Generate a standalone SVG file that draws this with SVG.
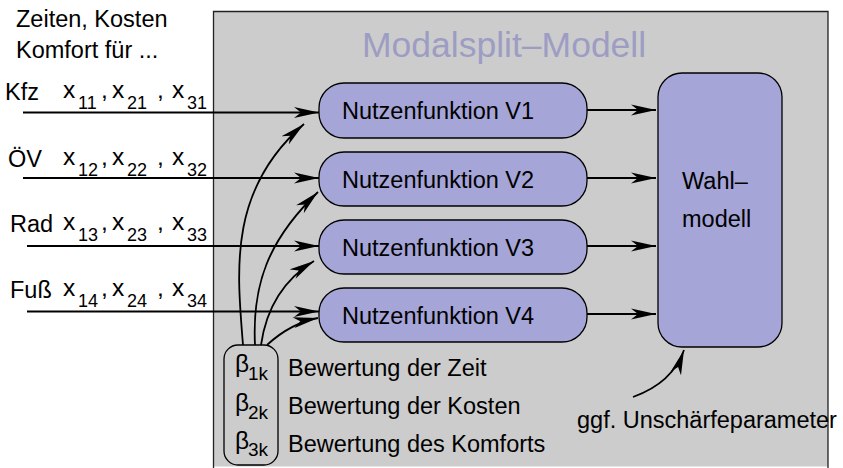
<svg xmlns="http://www.w3.org/2000/svg" width="843" height="468" viewBox="0 0 843 468">
<style>
text{font-family:"Liberation Sans",Arial,Helvetica,sans-serif;fill:#000}
.t{font-size:23.5px}
.x{font-size:24.5px}
.s{font-size:18px}
.sb{font-size:19px}
.title{font-size:35.5px;fill:#9d9dc4}
.node{fill:#a5a5d8;stroke:#000;stroke-width:1.3}
.con{fill:none;stroke:#000;stroke-width:1.8}
</style>
<defs>
<marker id="ah" markerUnits="userSpaceOnUse" markerWidth="25" markerHeight="12" refX="25" refY="6" orient="auto" viewBox="0 0 25 12">
<path d="M0,0.5 L25,6 L0,11.5 L7,6 Z" fill="#000"/>
</marker>
</defs>
<rect width="843" height="468" fill="#fff"/>
<g id="frame">
<rect x="213.5" y="11.5" width="614.5" height="455" fill="#cccccc"/>
<path d="M213.5,468 V11.5 H828 V468" fill="none" stroke="#222" stroke-width="1.3"/>
<text class="title" x="362" y="57">Modalsplit–Modell</text>
</g>
<g id="inputs-header">
<text class="t" x="16" y="27">Zeiten, Kosten</text>
<text class="t" x="16" y="58">Komfort für ...</text>
</g>
<g id="row-kfz">
<text class="t" x="5" y="100">Kfz</text>
<text class="x" y="98"><tspan x="63">x</tspan><tspan x="101">,</tspan><tspan x="112">x</tspan><tspan x="157">,</tspan><tspan x="172">x</tspan></text>
<text class="s" y="109"><tspan x="78">11</tspan><tspan x="127">21</tspan><tspan x="187">31</tspan></text>
</g>
<g id="row-oev">
<text class="t" x="8" y="167">ÖV</text>
<text class="x" y="165"><tspan x="63">x</tspan><tspan x="101">,</tspan><tspan x="112">x</tspan><tspan x="157">,</tspan><tspan x="172">x</tspan></text>
<text class="s" y="176"><tspan x="78">12</tspan><tspan x="127">22</tspan><tspan x="187">32</tspan></text>
</g>
<g id="row-rad">
<text class="t" x="10" y="232">Rad</text>
<text class="x" y="230"><tspan x="63">x</tspan><tspan x="101">,</tspan><tspan x="112">x</tspan><tspan x="157">,</tspan><tspan x="172">x</tspan></text>
<text class="s" y="241"><tspan x="78">13</tspan><tspan x="127">23</tspan><tspan x="187">33</tspan></text>
</g>
<g id="row-fuss">
<text class="t" x="10" y="298">Fuß</text>
<text class="x" y="296"><tspan x="63">x</tspan><tspan x="101">,</tspan><tspan x="112">x</tspan><tspan x="157">,</tspan><tspan x="172">x</tspan></text>
<text class="s" y="307"><tspan x="78">14</tspan><tspan x="127">24</tspan><tspan x="187">34</tspan></text>
</g>
<g id="v1"><rect class="node" x="319" y="83" width="268" height="55" rx="25"/><text class="t" x="342" y="119">Nutzenfunktion V1</text></g>
<g id="v2"><rect class="node" x="319" y="152" width="268" height="54" rx="25"/><text class="t" x="342" y="188">Nutzenfunktion V2</text></g>
<g id="v3"><rect class="node" x="319" y="220" width="268" height="54" rx="25"/><text class="t" x="342" y="256">Nutzenfunktion V3</text></g>
<g id="v4"><rect class="node" x="319" y="288" width="268" height="54" rx="25"/><text class="t" x="342" y="324">Nutzenfunktion V4</text></g>
<g id="wahlmodell"><rect class="node" x="658" y="73" width="124" height="274" rx="24"/><text class="t" x="682" y="189">Wahl–</text><text class="t" x="682" y="227">modell</text></g>
<g id="beta">
<rect x="224" y="345" width="54" height="120" rx="14" fill="none" stroke="#000" stroke-width="1.3"/>
<text class="x" x="235" y="372">β</text><text class="sb" x="248" y="380">1k</text>
<text class="x" x="235" y="411">β</text><text class="sb" x="248" y="419">2k</text>
<text class="x" x="235" y="449">β</text><text class="sb" x="248" y="456">3k</text>
<text class="t" x="288" y="376">Bewertung der Zeit</text>
<text class="t" x="288" y="414">Bewertung der Kosten</text>
<text class="t" x="288" y="452">Bewertung des Komforts</text>
</g>
<g id="param"><text class="t" x="577" y="428">ggf. Unschärfeparameter</text></g>
<g id="connectors" class="con">
<path class="con" d="M23,112.5 H319" marker-end="url(#ah)"/>
<path class="con" d="M23,178 H319" marker-end="url(#ah)"/>
<path class="con" d="M27,246 H319" marker-end="url(#ah)"/>
<path class="con" d="M27,311.5 H319" marker-end="url(#ah)"/>
<path class="con" d="M243,345 C237,270 228,190 304,124" marker-end="url(#ah)"/>
<path class="con" d="M255,345 C252,285 268,240 318,192" marker-end="url(#ah)"/>
<path class="con" d="M261,345 C266,310 283,280 314,261" marker-end="url(#ah)"/>
<path class="con" d="M267,345 C280,333 297,322 318,318" marker-end="url(#ah)"/>
<path class="con" d="M587,110 H656" marker-end="url(#ah)"/>
<path class="con" d="M587,178 H656" marker-end="url(#ah)"/>
<path class="con" d="M587,246 H656" marker-end="url(#ah)"/>
<path class="con" d="M587,314 H656" marker-end="url(#ah)"/>
<path class="con" d="M633,397 C658,388 676,373 684,350" marker-end="url(#ah)"/>
</g>
</svg>
